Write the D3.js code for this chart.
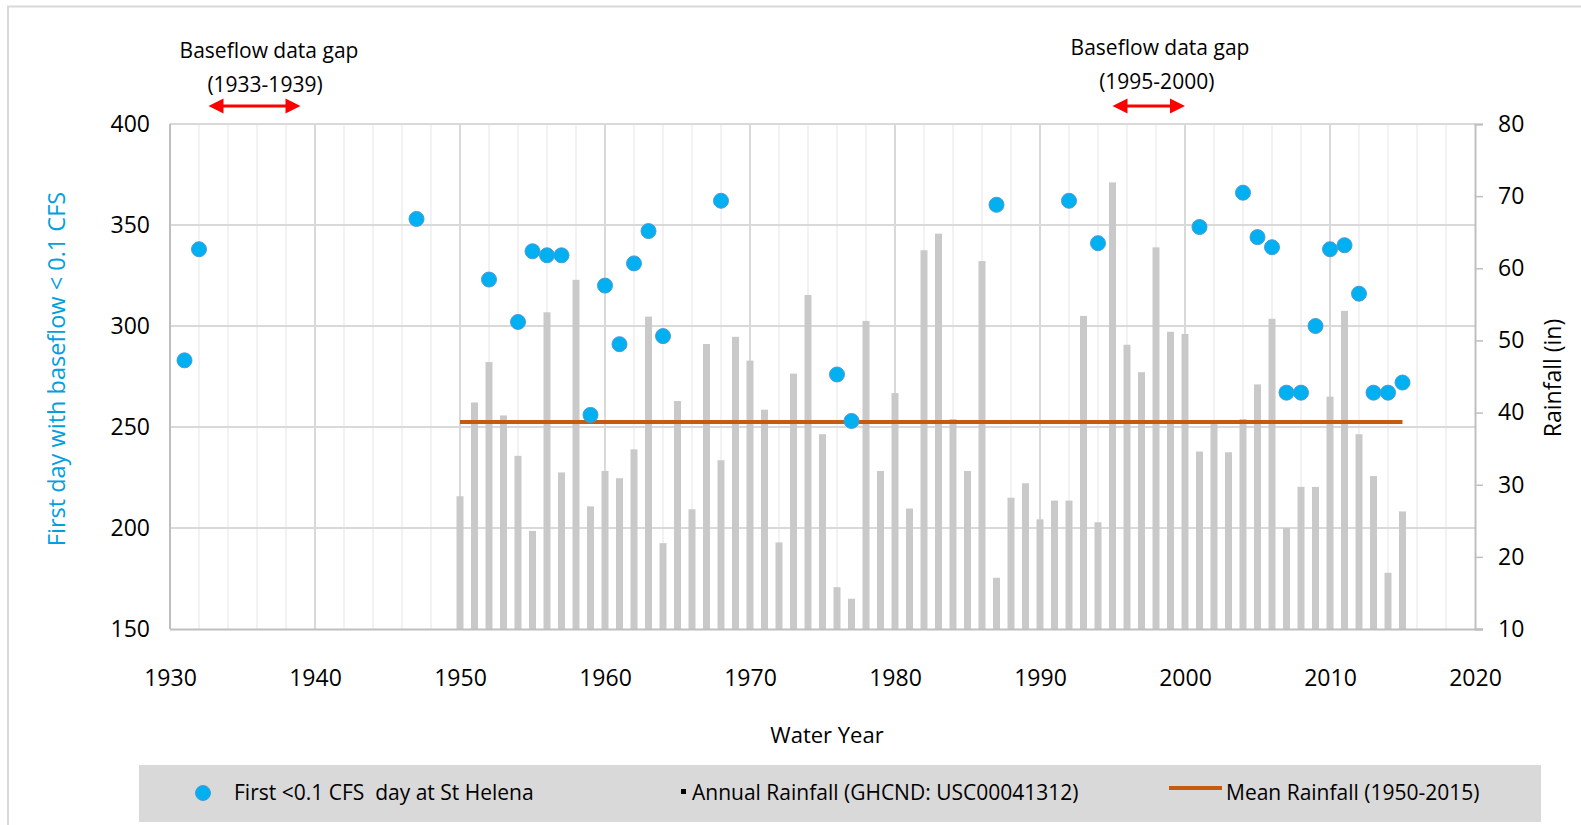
<!DOCTYPE html>
<html>
<head>
<meta charset="utf-8">
<script src="https://cdn.jsdelivr.net/npm/d3@7/dist/d3.min.js"></script>
<style>
  html, body { margin: 0; padding: 0; background: #fff; }
  svg { display: block; font-family: "Open Sans", "DejaVu Sans", sans-serif; }
  text { white-space: pre; }
</style>
</head>
<body>
<svg id="chart" width="1581" height="825"></svg>
<script>
// Annual rainfall (inches), one value per water year starting 1950
const rainStart = 1950;
const rainfall = [
  28.4, 41.4, 47.0, 39.6, 34.0, 23.6, 53.9, 31.7, 58.4, 27.0,
  31.9, 30.9, 34.9, 53.3, 21.9, 41.6, 26.6, 49.5, 33.4, 50.5,
  47.2, 40.4, 22.0, 45.4, 56.3, 37.0, 15.8, 14.2, 52.7, 31.9,
  42.7, 26.7, 62.5, 64.8, 39.1, 31.9, 61.0, 17.1, 28.2, 30.2,
  25.2, 27.8, 27.8, 53.4, 24.8, 71.9, 49.4, 45.6, 62.9, 51.2,
  50.9, 34.6, 38.5, 34.5, 39.1, 43.9, 53.0, 24.0, 29.7, 29.7,
  42.2, 54.1, 37.0, 31.2, 17.8, 26.3
];

// First day of the water year with baseflow below 0.1 CFS at St Helena
const flowYears = [1931, 1932, 1947, 1952, 1954, 1955, 1956, 1957, 1959, 1960,
  1961, 1962, 1963, 1964, 1968, 1976, 1977, 1987, 1992, 1994,
  2001, 2004, 2005, 2006, 2007, 2008, 2009, 2010, 2011, 2012,
  2013, 2014, 2015];
const firstDay = [283, 338, 353, 323, 302, 337, 335, 335, 256, 320,
  291, 331, 347, 295, 362, 276, 253, 360, 362, 341,
  349, 366, 344, 339, 267, 267, 300, 338, 340, 316,
  267, 267, 272];

// Periods without baseflow records
const gapStart = [1933, 1995];
const gapEnd = [1939, 2000];
const gapLabel = ["(1933-1939)", "(1995-2000)"];

const yearTicks = [1930, 1940, 1950, 1960, 1970, 1980, 1990, 2000, 2010, 2020];
const dayTicks = [150, 200, 250, 300, 350, 400];
const rainTicks = [10, 20, 30, 40, 50, 60, 70, 80];

const meanStart = 1950, meanEnd = 2015;

const rainYears = rainfall.map((_, i) => rainStart + i);
const meanRain = d3.mean(rainfall);

const svg = d3.select("#chart");
const L = 170, R = 1475, T = 124, B = 629;

const x = d3.scaleLinear().domain([1930, 2020]).range([L, R]);
const yDay = d3.scaleLinear().domain([150, 400]).range([B, T]);
const yRain = d3.scaleLinear().domain([10, 80]).range([B, T]);

// outer frame
svg.append("path").attr("d", `M8,825 V6.5 H1581`)
  .attr("fill", "none").attr("stroke", "#d9d9d9").attr("stroke-width", 2);

// vertical gridlines: light every 2 years, darker every decade
const grid = svg.append("g");
grid.selectAll("line.minor").data(d3.range(1932, 2020, 2).filter(v => v % 10 !== 0))
  .join("line").attr("class", "minor")
  .attr("x1", d => x(d)).attr("x2", d => x(d)).attr("y1", T).attr("y2", B)
  .attr("stroke", "#eeeeee").attr("stroke-width", 1.5);
grid.selectAll("line.major").data(yearTicks.slice(1, -1))
  .join("line").attr("class", "major")
  .attr("x1", d => x(d)).attr("x2", d => x(d)).attr("y1", T).attr("y2", B)
  .attr("stroke", "#d9d9d9").attr("stroke-width", 2);
grid.selectAll("line.h").data(dayTicks.slice(1))
  .join("line").attr("class", "h")
  .attr("x1", L).attr("x2", R).attr("y1", d => yDay(d)).attr("y2", d => yDay(d))
  .attr("stroke", "#d9d9d9").attr("stroke-width", 2);

// rainfall bars
svg.append("g").selectAll("rect").data(rainfall)
  .join("rect")
  .attr("x", (d, i) => x(rainYears[i]) - 3.5)
  .attr("width", 7)
  .attr("y", d => yRain(d))
  .attr("height", d => yRain(10) - yRain(d))
  .attr("fill", "#c9c9c9");

// axes
const axL = d3.axisLeft(yDay).tickValues(dayTicks).tickSize(0).tickPadding(20);
const gL = svg.append("g").attr("transform", `translate(${L},0)`).call(axL);
const axB = d3.axisBottom(x).tickValues(yearTicks).tickFormat(d3.format("d")).tickSize(0).tickPadding(41);
const gB = svg.append("g").attr("transform", `translate(0,${B})`).call(axB);
const axR = d3.axisRight(yRain).tickValues(rainTicks).tickSize(8).tickPadding(15);
const gR = svg.append("g").attr("transform", `translate(${R},0)`).call(axR);

[gL, gB, gR].forEach(g => {
  g.select(".domain").attr("stroke", "#bfbfbf").attr("stroke-width", 2);
  g.selectAll(".tick line").attr("stroke", "#bfbfbf").attr("stroke-width", 1.5);
  g.selectAll(".tick text").attr("fill", "#000").style("font-size", "23px")
    .style("font-family", '"Open Sans", sans-serif');
});
gB.select(".domain").attr("d", `M${L},0.5H${R + 8}`);
gL.select(".domain").attr("d", `M0,${T}V${B}`);

// mean rainfall line
svg.append("line")
  .attr("x1", x(meanStart)).attr("x2", x(meanEnd))
  .attr("y1", yRain(meanRain)).attr("y2", yRain(meanRain))
  .attr("stroke", "#c55a11").attr("stroke-width", 4);

// low-flow day points
svg.append("g").selectAll("circle").data(firstDay)
  .join("circle")
  .attr("cx", (d, i) => x(flowYears[i]))
  .attr("cy", d => yDay(d))
  .attr("r", 7.5)
  .attr("fill", "#00b0f0")
  .attr("stroke", "#4a9ad8").attr("stroke-width", 1);

// axis titles
svg.append("text").attr("transform", "translate(65,369) rotate(-90)")
  .attr("text-anchor", "middle").attr("fill", "#00a0e0")
  .style("font-size", "23.5px").text("First day with baseflow < 0.1 CFS");
svg.append("text").attr("transform", "translate(1561,378) rotate(-90)")
  .attr("text-anchor", "middle").attr("fill", "#000")
  .style("font-size", "23px").text("Rainfall (in)");
svg.append("text").attr("x", 827).attr("y", 743)
  .attr("text-anchor", "middle").attr("fill", "#000")
  .style("font-size", "22px").text("Water Year");

// data-gap annotations with double arrows
const ann = svg.append("g");
gapStart.forEach((s, i) => {
  const e = gapEnd[i];
  const cx = (x(s) + x(e)) / 2;
  const topY = i === 0 ? 58 : 55;
  ann.append("text").attr("x", i === 0 ? 269 : 1160).attr("y", topY)
    .attr("text-anchor", "middle").style("font-size", "21px").text("Baseflow data gap");
  ann.append("text").attr("x", cx + 8).attr("y", topY + 34)
    .attr("text-anchor", "middle").style("font-size", "21px").text(gapLabel[i]);
  const x0 = x(s) - (i === 0 ? 5 : 0), x1 = x(e), ay = 106;
  ann.append("line").attr("x1", x0 + 12).attr("x2", x1 - 12).attr("y1", ay).attr("y2", ay)
    .attr("stroke", "#ff0000").attr("stroke-width", 3);
  ann.append("path").attr("d", `M${x0},${ay} L${x0 + 15},${ay - 7.5} L${x0 + 15},${ay + 7.5} Z`).attr("fill", "#ff0000");
  ann.append("path").attr("d", `M${x1},${ay} L${x1 - 15},${ay - 7.5} L${x1 - 15},${ay + 7.5} Z`).attr("fill", "#ff0000");
});

// legend
const lg = svg.append("g");
lg.append("rect").attr("x", 139).attr("y", 765).attr("width", 1402).attr("height", 57).attr("fill", "#d9d9d9");
lg.append("circle").attr("cx", 203).attr("cy", 793).attr("r", 7.5)
  .attr("fill", "#00b0f0").attr("stroke", "#4a9ad8").attr("stroke-width", 1);
lg.append("text").attr("x", 234).attr("y", 800).style("font-size", "21px")
  .text("First <0.1 CFS  day at St Helena");
lg.append("rect").attr("x", 681).attr("y", 789).attr("width", 5).attr("height", 5).attr("fill", "#000");
lg.append("text").attr("x", 692).attr("y", 800).style("font-size", "21px")
  .text("Annual Rainfall (GHCND: USC00041312)");
lg.append("line").attr("x1", 1169).attr("x2", 1222).attr("y1", 788).attr("y2", 788)
  .attr("stroke", "#c55a11").attr("stroke-width", 4);
lg.append("text").attr("x", 1226).attr("y", 800).style("font-size", "21px")
  .text("Mean Rainfall (1950-2015)");
</script>
</body>
</html>
